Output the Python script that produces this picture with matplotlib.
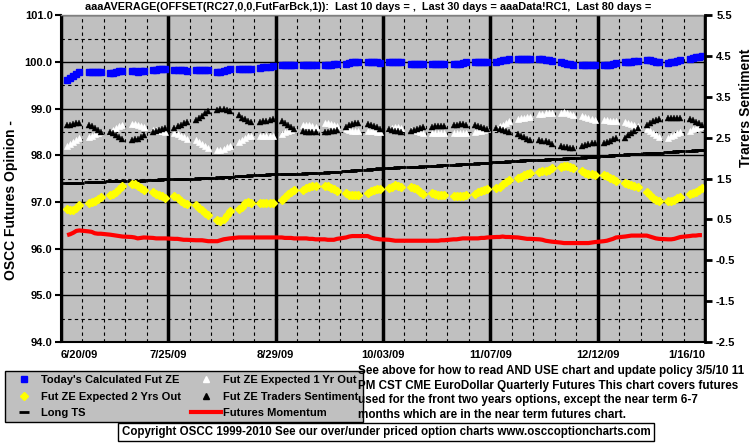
import matplotlib
matplotlib.use('Agg')
import matplotlib.pyplot as plt
import pandas as pd
import numpy as np
from matplotlib.lines import Line2D

plt.rcParams['font.family'] = ['Liberation Sans', 'DejaVu Sans']
plt.rcParams['font.weight'] = 'bold'

# ---------------- data (business days 6/22/09 .. 1/15/10) ----------------
dates = pd.bdate_range('2009-06-22', '2010-01-15')

today_calc = [
    99.62, 99.66, 99.70, 99.74, 99.78, 99.78, 99.78, 99.78, 99.78, 99.78,
    99.76, 99.77, 99.78, 99.80, 99.81, 99.81, 99.80, 99.79, 99.80, 99.81,
    99.82, 99.83, 99.84, 99.84, 99.84, 99.83, 99.83, 99.82, 99.82, 99.81,
    99.82, 99.82, 99.82, 99.82, 99.82, 99.78, 99.79, 99.81, 99.83, 99.84,
    99.86, 99.86, 99.86, 99.86, 99.86, 99.88, 99.89, 99.90, 99.90, 99.91,
    99.93, 99.93, 99.93, 99.93, 99.93, 99.93, 99.93, 99.93, 99.93, 99.93,
    99.93, 99.93, 99.94, 99.95, 99.95, 99.95, 99.97, 99.99, 100.00, 100.01,
    100.00, 100.00, 100.00, 99.99, 99.98, 99.99, 99.99, 99.99, 99.99, 99.99,
    99.96, 99.96, 99.96, 99.96, 99.96, 99.96, 99.96, 99.96, 99.96, 99.96,
    99.96, 99.96, 99.96, 99.98, 99.99, 99.99, 99.99, 100.00, 100.00, 100.01,
    100.00, 100.02, 100.04, 100.05, 100.06, 100.06, 100.06, 100.06, 100.06, 100.06,
    100.06, 100.06, 100.05, 100.04, 100.03, 100.00, 99.98, 99.96, 99.95, 99.94,
    99.94, 99.93, 99.93, 99.93, 99.93, 99.93, 99.93, 99.94, 99.95, 99.97,
    99.99, 100.00, 100.01, 100.02, 100.03, 100.05, 100.04, 100.03, 100.01, 100.00,
    99.98, 99.99, 100.01, 100.03, 100.05, 100.07, 100.09, 100.10, 100.11, 100.12]

expected_1yr = [
    98.20, 98.24, 98.28, 98.33, 98.37, 98.39, 98.42, 98.45, 98.48, 98.51,
    98.51, 98.54, 98.58, 98.62, 98.66, 98.68, 98.68, 98.66, 98.63, 98.60,
    98.55, 98.54, 98.53, 98.52, 98.50, 98.47, 98.45, 98.42, 98.39, 98.36,
    98.32, 98.28, 98.24, 98.20, 98.16, 98.12, 98.12, 98.14, 98.17, 98.20,
    98.28, 98.33, 98.38, 98.41, 98.42, 98.42, 98.42, 98.42, 98.42, 98.42,
    98.46, 98.49, 98.52, 98.55, 98.57, 98.64, 98.65, 98.64, 98.62, 98.60,
    98.69, 98.69, 98.68, 98.66, 98.63, 98.56, 98.54, 98.53, 98.53, 98.53,
    98.53, 98.52, 98.52, 98.51, 98.51, 98.56, 98.59, 98.61, 98.60, 98.58,
    98.55, 98.54, 98.52, 98.50, 98.48, 98.47, 98.47, 98.47, 98.47, 98.47,
    98.47, 98.47, 98.47, 98.48, 98.48, 98.50, 98.52, 98.53, 98.55, 98.56,
    98.58, 98.62, 98.66, 98.70, 98.74, 98.77, 98.79, 98.80, 98.82, 98.83,
    98.88, 98.89, 98.90, 98.90, 98.90, 98.91, 98.92, 98.91, 98.89, 98.87,
    98.84, 98.82, 98.80, 98.78, 98.76, 98.76, 98.75, 98.74, 98.74, 98.73,
    98.71, 98.69, 98.67, 98.65, 98.62, 98.56, 98.52, 98.48, 98.44, 98.40,
    98.38, 98.41, 98.44, 98.47, 98.50, 98.53, 98.56, 98.58, 98.60, 98.62]

expected_2yr = [
    96.84, 96.83, 96.83, 96.87, 96.94, 96.97, 96.99, 97.03, 97.07, 97.11,
    97.16, 97.18, 97.22, 97.28, 97.34, 97.38, 97.38, 97.35, 97.30, 97.26,
    97.21, 97.18, 97.16, 97.12, 97.09, 97.13, 97.09, 97.03, 96.97, 96.95,
    96.93, 96.87, 96.82, 96.77, 96.72, 96.62, 96.59, 96.64, 96.72, 96.80,
    96.84, 96.90, 96.97, 97.00, 96.98, 96.98, 96.97, 96.97, 96.97, 96.98,
    97.04, 97.10, 97.17, 97.22, 97.26, 97.26, 97.30, 97.33, 97.34, 97.34,
    97.35, 97.34, 97.31, 97.27, 97.23, 97.19, 97.16, 97.14, 97.15, 97.16,
    97.20, 97.23, 97.25, 97.27, 97.28, 97.29, 97.33, 97.36, 97.35, 97.32,
    97.33, 97.31, 97.27, 97.22, 97.18, 97.20, 97.17, 97.16, 97.15, 97.15,
    97.12, 97.12, 97.12, 97.13, 97.14, 97.18, 97.21, 97.24, 97.26, 97.27,
    97.29, 97.33, 97.38, 97.43, 97.47, 97.51, 97.54, 97.57, 97.60, 97.62,
    97.65, 97.66, 97.67, 97.69, 97.72, 97.75, 97.77, 97.77, 97.75, 97.72,
    97.66, 97.63, 97.61, 97.59, 97.58, 97.58, 97.55, 97.52, 97.49, 97.46,
    97.41, 97.38, 97.36, 97.34, 97.33, 97.22, 97.15, 97.09, 97.05, 97.02,
    97.02, 97.03, 97.05, 97.08, 97.11, 97.17, 97.19, 97.22, 97.26, 97.31]

traders_sentiment = [
    98.64, 98.66, 98.68, 98.70, 98.70, 98.64, 98.62, 98.59, 98.55, 98.51,
    98.50, 98.47, 98.44, 98.40, 98.36, 98.33, 98.34, 98.36, 98.40, 98.44,
    98.49, 98.52, 98.55, 98.57, 98.59, 98.58, 98.62, 98.66, 98.69, 98.71,
    98.75, 98.80, 98.85, 98.90, 98.94, 98.98, 98.99, 98.99, 98.97, 98.94,
    98.86, 98.81, 98.77, 98.74, 98.71, 98.72, 98.73, 98.74, 98.76, 98.77,
    98.73, 98.70, 98.66, 98.61, 98.56, 98.52, 98.51, 98.50, 98.50, 98.50,
    98.50, 98.51, 98.52, 98.53, 98.54, 98.61, 98.64, 98.67, 98.69, 98.70,
    98.68, 98.66, 98.63, 98.60, 98.56, 98.56, 98.55, 98.53, 98.52, 98.51,
    98.52, 98.54, 98.56, 98.58, 98.60, 98.61, 98.62, 98.63, 98.63, 98.63,
    98.65, 98.66, 98.67, 98.67, 98.66, 98.64, 98.62, 98.60, 98.58, 98.56,
    98.58, 98.57, 98.55, 98.52, 98.50, 98.45, 98.42, 98.39, 98.36, 98.33,
    98.32, 98.31, 98.30, 98.28, 98.25, 98.19, 98.18, 98.17, 98.16, 98.16,
    98.20, 98.22, 98.24, 98.26, 98.27, 98.26, 98.28, 98.31, 98.34, 98.37,
    98.38, 98.43, 98.48, 98.53, 98.58, 98.66, 98.70, 98.73, 98.76, 98.78,
    98.80, 98.80, 98.80, 98.79, 98.79, 98.77, 98.75, 98.72, 98.69, 98.66]

long_ts = [
    97.40, 97.40, 97.41, 97.41, 97.41, 97.42, 97.42, 97.42, 97.42, 97.43,
    97.44, 97.44, 97.45, 97.45, 97.45, 97.46, 97.46, 97.46, 97.46, 97.47,
    97.47, 97.48, 97.48, 97.49, 97.49, 97.49, 97.49, 97.50, 97.50, 97.50,
    97.50, 97.51, 97.51, 97.51, 97.52, 97.52, 97.53, 97.53, 97.54, 97.54,
    97.55, 97.55, 97.56, 97.56, 97.57, 97.57, 97.58, 97.58, 97.59, 97.59,
    97.59, 97.60, 97.60, 97.61, 97.61, 97.61, 97.62, 97.62, 97.63, 97.63,
    97.63, 97.64, 97.64, 97.65, 97.65, 97.66, 97.66, 97.67, 97.68, 97.69,
    97.69, 97.70, 97.71, 97.71, 97.72, 97.72, 97.73, 97.73, 97.74, 97.74,
    97.75, 97.75, 97.76, 97.76, 97.77, 97.77, 97.78, 97.78, 97.79, 97.79,
    97.80, 97.80, 97.81, 97.81, 97.82, 97.82, 97.83, 97.83, 97.84, 97.84,
    97.85, 97.85, 97.86, 97.86, 97.87, 97.88, 97.88, 97.89, 97.89, 97.90,
    97.90, 97.91, 97.91, 97.92, 97.92, 97.93, 97.93, 97.94, 97.94, 97.95,
    97.95, 97.96, 97.96, 97.97, 97.97, 97.98, 97.99, 97.99, 98.00, 98.01,
    98.01, 98.02, 98.02, 98.03, 98.03, 98.04, 98.04, 98.05, 98.05, 98.06,
    98.07, 98.08, 98.08, 98.09, 98.09, 98.10, 98.10, 98.11, 98.11, 98.12]

momentum = [
    96.29, 96.31, 96.34, 96.38, 96.39, 96.37, 96.36, 96.33, 96.32, 96.32,
    96.30, 96.29, 96.28, 96.27, 96.26, 96.25, 96.24, 96.22, 96.23, 96.24,
    96.23, 96.22, 96.22, 96.22, 96.22, 96.21, 96.21, 96.20, 96.19, 96.19,
    96.18, 96.18, 96.18, 96.17, 96.16, 96.16, 96.18, 96.20, 96.21, 96.22,
    96.24, 96.24, 96.24, 96.24, 96.24, 96.24, 96.24, 96.24, 96.24, 96.24,
    96.24, 96.23, 96.23, 96.23, 96.22, 96.22, 96.22, 96.21, 96.21, 96.20,
    96.20, 96.19, 96.19, 96.19, 96.21, 96.24, 96.26, 96.27, 96.27, 96.27,
    96.27, 96.24, 96.22, 96.21, 96.20, 96.19, 96.18, 96.17, 96.17, 96.17,
    96.17, 96.17, 96.17, 96.17, 96.17, 96.17, 96.17, 96.17, 96.18, 96.18,
    96.20, 96.20, 96.21, 96.22, 96.22, 96.22, 96.22, 96.23, 96.23, 96.24,
    96.25, 96.25, 96.26, 96.25, 96.25, 96.24, 96.23, 96.22, 96.21, 96.21,
    96.20, 96.19, 96.17, 96.16, 96.15, 96.13, 96.12, 96.12, 96.12, 96.12,
    96.12, 96.12, 96.12, 96.13, 96.14, 96.16, 96.17, 96.19, 96.21, 96.24,
    96.26, 96.27, 96.28, 96.28, 96.28, 96.28, 96.26, 96.24, 96.22, 96.21,
    96.20, 96.20, 96.21, 96.23, 96.25, 96.27, 96.28, 96.28, 96.29, 96.29]

x_start, x_end = '2009-06-20', '2010-01-16'
left_ticks = [94.0, 95.0, 96.0, 97.0, 98.0, 99.0, 100.0, 101.0]
right_ticks = [-2.5, -1.5, -0.5, 0.5, 1.5, 2.5, 3.5, 4.5, 5.5]

title = ("aaaAVERAGE(OFFSET(RC27,0,0,FutFarBck,1)):  Last 10 days = ,  "
         "Last 30 days = aaaData!RC1,  Last 80 days = ")
note_lines = [
    "See above for how to read AND USE chart and update policy 3/5/10 11",
    "PM CST CME EuroDollar Quarterly Futures This chart covers futures",
    "used for the front two years options, except the near term 6-7",
    "months which are in the near term futures chart."]
copyright_txt = ("Copyright OSCC 1999-2010 See our over/under priced option "
                 "charts www.osccoptioncharts.com")

# ---------------- figure ----------------
W, H = 755, 446
fig = plt.figure(figsize=(W / 100, H / 100), dpi=100)
fig.patch.set_facecolor('white')
x0, x1, y0, y1 = 61, 705, 15.3, 342
ax = fig.add_axes([x0 / W, 1 - y1 / H, (x1 - x0) / W, (y1 - y0) / H])
ax.set_facecolor('#C0C0C0')

FS = 8
ax.plot(dates, momentum, color='#FF0000', lw=3, zorder=3, solid_capstyle='butt')
ax.plot(dates, long_ts, ls='none', marker='_', ms=7, mew=2, color='black', zorder=4)
ax.plot(dates, expected_2yr, ls='none', marker='D', ms=4.5, color='#FFFF00',
        mec='#FFFF00', zorder=4)
ax.plot(dates, expected_1yr, ls='none', marker='^', ms=5, color='white',
        mec='white', mew=0.5, zorder=4)
ax.plot(dates, traders_sentiment, ls='none', marker='^', ms=4, color='black',
        mec='black', mew=0.3, zorder=5)
ax.plot(dates, today_calc, ls='none', marker='s', ms=4.5, color='#0000FF',
        mec='#0000FF', zorder=5)

ax.set_xlim(pd.Timestamp(x_start), pd.Timestamp(x_end))
ax.set_ylim(94, 101)
major = pd.date_range(x_start, x_end, freq='35D')
minor = pd.date_range(x_start, x_end, freq='7D')
ax.set_xticks(major)
ax.set_xticks(minor, minor=True)
labels = [f"{d.month}/{d.day:02d}/{d.year % 100:02d}" for d in major]
ax.set_xticklabels(labels, fontsize=FS, fontweight='bold')
tl = ax.get_xticklabels()
tl[0].set_ha('left')
tl[-1].set_ha('right')
ax.set_yticks(left_ticks)
ax.set_yticks(np.arange(94.5, 101, 1.0), minor=True)
ax.set_yticklabels([f"{v:.1f}" for v in left_ticks], fontsize=FS, fontweight='bold')

ax.grid(which='major', axis='x', color='black', lw=2.5, ls='-', zorder=1)
ax.grid(which='minor', axis='x', color='black', lw=0.8, ls=(0, (3, 3)), zorder=1)
ax.grid(which='major', axis='y', color='black', lw=1.0, ls='-', zorder=1)
ax.grid(which='minor', axis='y', color='black', lw=0.8, ls=(0, (3, 3)), zorder=1)
ax.set_axisbelow(True)

ax.tick_params(axis='y', which='major', direction='out', length=4, width=1.5, pad=2)
ax.tick_params(axis='y', which='minor', length=0)
ax.tick_params(axis='x', which='major', length=0, pad=6)
ax.tick_params(axis='x', which='minor', length=0)
for s in ['left', 'bottom']:
    ax.spines[s].set_linewidth(1.5)
ax.spines['top'].set_color('#808080')
ax.spines['top'].set_linewidth(1)
ax.spines['right'].set_visible(False)
ax.set_ylabel('OSCC Futures Opinion -', fontsize=10, fontweight='bold')
ax.yaxis.set_label_coords(-0.0668, 0.435)

ax2 = ax.twinx()
ax2.set_ylim(-2.5, 5.5)
ax2.set_yticks(right_ticks)
ax2.set_yticklabels([f"{v:.1f}" for v in right_ticks], fontsize=FS, fontweight='bold')
ax2.tick_params(axis='y', direction='out', length=5, width=2, pad=3)
ax2.spines['right'].set_linewidth(2)
for s in ['left', 'top', 'bottom']:
    ax2.spines[s].set_visible(False)
ax2.set_ylabel('Trarers Sentiment', fontsize=10, fontweight='bold')
ax2.yaxis.set_label_coords(1.0528, 0.716)

fig.text(369.5 / W, 1 - 7.5 / H, title, ha='center', va='center',
         fontsize=7.8, fontweight='bold')

handles = [
    Line2D([], [], ls='none', marker='s', ms=4.5, color='#0000FF'),
    Line2D([], [], ls='none', marker='D', ms=4.5, color='#FFFF00'),
    Line2D([], [], ls='none', marker='_', ms=7, mew=2, color='black'),
    Line2D([], [], ls='none', marker='^', ms=5, color='white'),
    Line2D([], [], ls='none', marker='^', ms=4, color='black'),
    Line2D([], [], color='#FF0000', lw=3),
]
names = ["Today's Calculated Fut ZE", "Fut ZE Expected 2 Yrs Out", "Long TS",
         "Fut ZE Expected 1 Yr Out", "Fut ZE Traders Sentiment", "Futures Momentum"]
leg = fig.legend(handles, names, ncol=2, loc='upper left',
                 bbox_to_anchor=(5 / W, 1 - 371 / H), borderaxespad=0,
                 prop={'size': FS, 'weight': 'bold'}, frameon=True, fancybox=False,
                 edgecolor='black', facecolor='#C0C0C0', framealpha=1,
                 handlelength=2.7, handletextpad=0.2, columnspacing=0.9,
                 labelspacing=0.6, borderpad=0.35)
leg.get_frame().set_linewidth(1)
leg.set_zorder(5)

for i, line in enumerate(note_lines):
    fig.text(358 / W, 1 - (371 + 14.5 * i) / H, line, ha='left', va='center',
             fontsize=8.4, fontweight='bold', zorder=6)

fig.text(386 / W, 1 - 432 / H, copyright_txt, ha='center', va='center',
         fontsize=8.3, fontweight='bold', zorder=6,
         bbox=dict(facecolor='white', edgecolor='black', lw=1,
                   boxstyle='square,pad=0.3'))

fig.savefig('out.png', dpi=100, facecolor='white')
